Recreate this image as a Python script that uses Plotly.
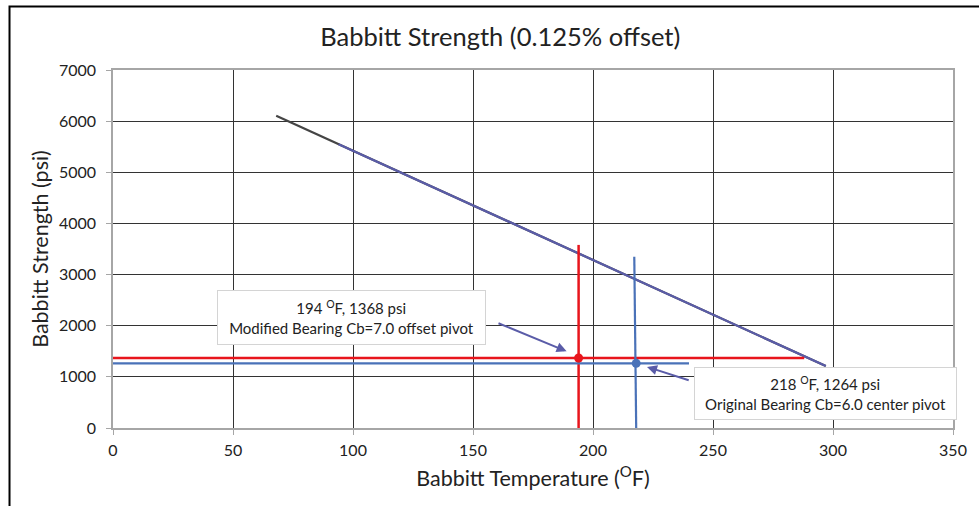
import plotly.graph_objects as go

# Babbitt yield strength vs. temperature (0.125% offset)
strength_temp = [68, 297]
strength_psi = [6106, 1212]
trend_temp = [94, 297]
trend_psi = [5550, 1212]

# Operating points
mod_temp, mod_psi = 194, 1368
orig_temp, orig_psi = 218, 1264

# Guide lines through each operating point
mod_h_x = [0, 288]
mod_v_y = [0, 3580]
orig_h_x = [0, 240]
orig_v_x = [218, 217.2]
orig_v_y = [0, 3350]

x_ticks = [0, 50, 100, 150, 200, 250, 300, 350]
y_ticks = [0, 1000, 2000, 3000, 4000, 5000, 6000, 7000]

RED = "#E8151C"
BLUE = "#4A72B8"
PURPLE = "#5A5CA8"
FONT = "Lato"

fig = go.Figure()

fig.add_trace(go.Scatter(x=strength_temp, y=strength_psi, mode="lines",
                         line=dict(color="#454545", width=2.2), hoverinfo="skip"))
fig.add_trace(go.Scatter(x=trend_temp, y=trend_psi, mode="lines",
                         line=dict(color=PURPLE, width=2.2), hoverinfo="skip"))

fig.add_trace(go.Scatter(x=mod_h_x, y=[mod_psi, mod_psi], mode="lines",
                         line=dict(color=RED, width=2.5)))
fig.add_trace(go.Scatter(x=[mod_temp, mod_temp], y=mod_v_y, mode="lines",
                         line=dict(color=RED, width=2.5)))
fig.add_trace(go.Scatter(x=orig_h_x, y=[orig_psi, orig_psi], mode="lines",
                         line=dict(color=BLUE, width=2.2)))
fig.add_trace(go.Scatter(x=orig_v_x, y=orig_v_y, mode="lines",
                         line=dict(color=BLUE, width=2.2)))

fig.add_trace(go.Scatter(x=[mod_temp], y=[mod_psi], mode="markers",
                         marker=dict(color=RED, size=9)))
fig.add_trace(go.Scatter(x=[orig_temp], y=[orig_psi], mode="markers",
                         marker=dict(color=BLUE, size=9)))

# Callout arrows
fig.add_annotation(x=189, y=1500, ax=160, ay=2060, xref="x", yref="y",
                   axref="x", ayref="y", text="", showarrow=True,
                   arrowhead=2, arrowsize=1, arrowwidth=2, arrowcolor=PURPLE)
fig.add_annotation(x=222.5, y=1195, ax=240.5, ay=925, xref="x", yref="y",
                   axref="x", ayref="y", text="", showarrow=True,
                   arrowhead=2, arrowsize=1, arrowwidth=2, arrowcolor=PURPLE)

# Callout boxes
fig.add_annotation(x=99.3, y=2154, xref="x", yref="y", showarrow=False,
                   text=f"{mod_temp} <sup>O</sup>F, {mod_psi} psi<br>Modified Bearing Cb=7.0 offset pivot",
                   font=dict(family=FONT, size=15, color="#222"),
                   bgcolor="white", bordercolor="#D4D4D4", borderwidth=1,
                   width=265, height=51, align="center")
fig.add_annotation(x=296.9, y=666, xref="x", yref="y", showarrow=False,
                   text=f"{orig_temp} <sup>O</sup>F, {orig_psi} psi<br>Original Bearing Cb=6.0 center pivot",
                   font=dict(family=FONT, size=15, color="#222"),
                   bgcolor="white", bordercolor="#D4D4D4", borderwidth=1,
                   width=259, height=49, align="center")

# Outer frame
fig.add_shape(type="rect", xref="paper", yref="paper",
              x0=-0.1232, x1=1.2, y0=-0.4, y1=1.1771,
              line=dict(color="black", width=2), layer="below")

axis_common = dict(
    showgrid=True, gridcolor="#333333", gridwidth=1.4,
    showline=True, linecolor="#A6A6A6", linewidth=1.5, mirror=True,
    ticks="outside", ticklen=5, tickcolor="#A6A6A6", tickwidth=1.2,
    zeroline=False,
    tickfont=dict(family=FONT, size=16, color="#222"),
)

fig.update_xaxes(range=[0, 350], tickvals=x_ticks, ticklabelstandoff=2,
                 title=dict(text="Babbitt Temperature (<sup>O</sup>F)",
                            font=dict(family=FONT, size=21.5, color="#222"), standoff=13),
                 **axis_common)
fig.update_yaxes(range=[0, 7000], tickvals=y_ticks, ticklabelstandoff=7,
                 title=dict(text="Babbitt Strength (psi)",
                            font=dict(family=FONT, size=21.5, color="#222"), standoff=4),
                 **axis_common)

fig.update_layout(
    width=979, height=506,
    margin=dict(l=113, r=19, t=70, b=78),
    paper_bgcolor="white", plot_bgcolor="white",
    showlegend=False,
    title=dict(text="Babbitt Strength (0.125% offset)", x=0.511, xref="container",
               y=0.927, yref="container", xanchor="center", yanchor="middle",
               font=dict(family=FONT, size=25.5, color="#222")),
)

fig.write_html("out.html")
